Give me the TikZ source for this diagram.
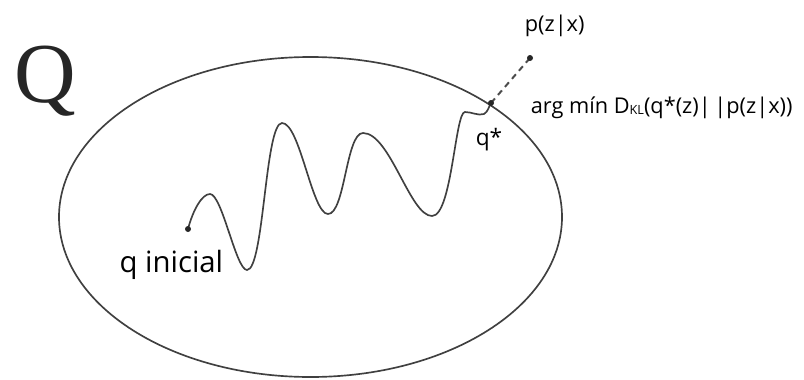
\documentclass[tikz,border=0pt]{standalone}
\usepackage{fontspec}
\setsansfont{Open Sans}
\newfontfamily\setfont{Liberation Serif}
\usepackage{tikz}
\usetikzlibrary{positioning}

\tikzset{
  lbl/.style={inner sep=0pt, text=black, font=\sffamily\fontsize{16.3}{19}\selectfont},
  dot/.style={fill=black!85},
}

\begin{document}
\begin{tikzpicture}[x=0.75pt, y=0.75pt, line width=1.25pt]
  \useasboundingbox (0,0) rectangle (804,-379);
  % the set Q
  \draw[black!75] (310.5,-217) ellipse [x radius=251.5, y radius=160];
  \coordinate (qini) at (188,-229);
  \coordinate (qstar) at (491,-103);
  \coordinate (ptrue) at (530,-58);
  % path of the optimisation
  \draw[black!75] (qini) .. controls (193,-210) and (202,-194) .. (210,-194)
    .. controls (222,-194) and (236,-270) .. (247,-270)
    .. controls (264,-270) and (265,-123) .. (282,-123)
    .. controls (300,-123) and (312,-214) .. (328,-214)
    .. controls (345,-214) and (346,-133) .. (363,-133)
    .. controls (390,-133) and (410,-216) .. (432,-216)
    .. controls (452,-216) and (455,-112) .. (465,-112)
    .. controls (472,-112) and (478,-116) .. (484,-114)
    .. controls (488,-112) and (489,-106) .. (qstar);
  \draw[black!70, line width=1.5pt, dash pattern=on 4.5pt off 3.5pt] (qstar) -- (ptrue);
  \foreach \p in {qini,qstar,ptrue} {
    \fill[dot] (\p) circle[radius=3];
  }
  % labels
  \node[inner sep=0pt, anchor=base, text=black!85, font=\setfont\fontsize{64}{64}\selectfont] (Qlabel) at (45,-102) {Q};
  \node[lbl, anchor=base east, font=\sffamily\fontsize{22}{26}\selectfont] (inilabel) at (224,-272) {q inicial};
  \node[lbl, anchor=base west, font=\sffamily\fontsize{17}{20}\selectfont] (qlabel) at (475,-145) {q*};
  \node[lbl, anchor=base west] (plabel) at (524,-31) {p(z|x)};
  \node[lbl, anchor=base west] (argmin) at (530,-113)
    {arg mín D\raisebox{-1pt}{\fontsize{9.5}{9.5}\selectfont KL}(q*(z)|\,|p(z|x))};
\end{tikzpicture}
\end{document}
